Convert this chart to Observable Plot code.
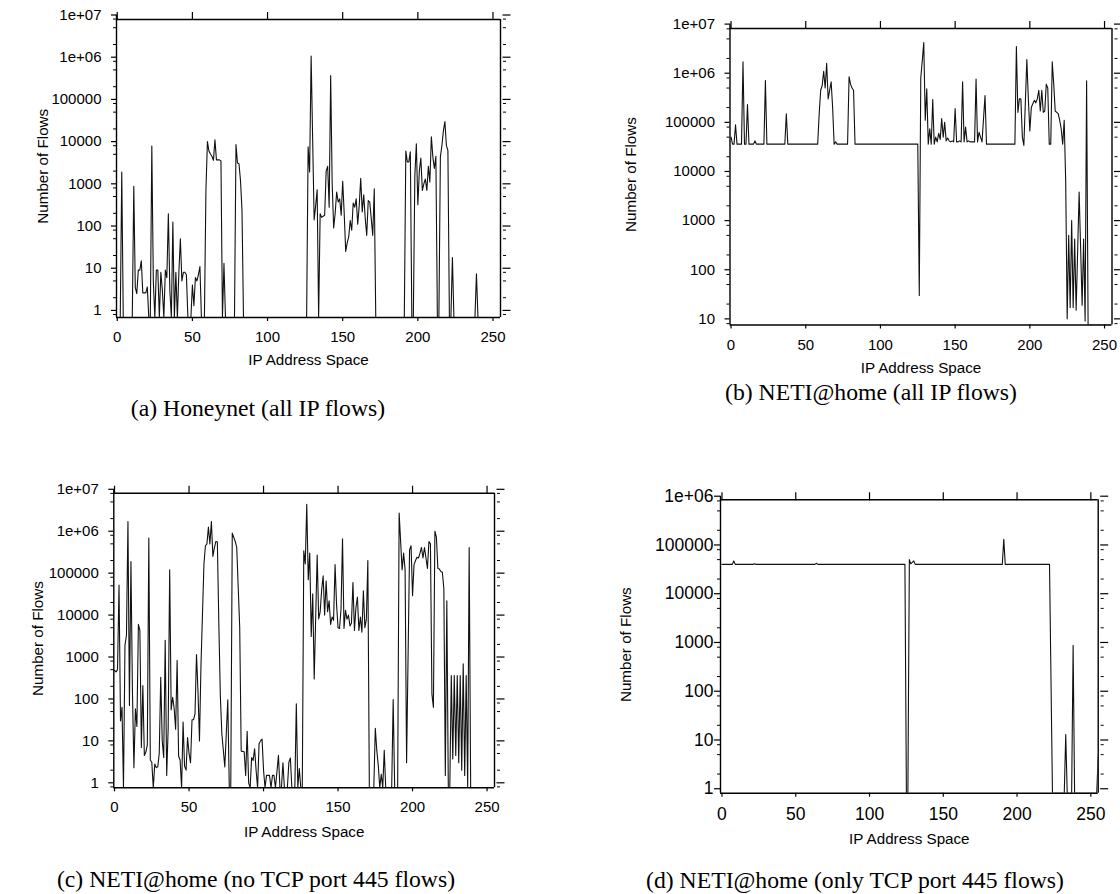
<!DOCTYPE html>
<html><head><meta charset="utf-8">
<script src="https://cdn.jsdelivr.net/npm/d3@7"></script>
<script src="https://cdn.jsdelivr.net/npm/@observablehq/plot@0.6"></script>
<style>
html,body{margin:0;padding:0;background:#fff}
body{width:1120px;height:894px;position:relative;overflow:hidden}
.panel{position:absolute}
.cap{position:absolute;font-family:"Liberation Serif","Times New Roman",serif;font-size:23.7px;white-space:nowrap;transform:translate(-50%,-50%);color:#000}
</style></head><body>
<div id="pa" class="panel" style="left:0;top:0"></div>
<div id="pb" class="panel" style="left:560px;top:0"></div>
<div id="pc" class="panel" style="left:0;top:440px"></div>
<div id="pd" class="panel" style="left:560px;top:440px"></div>
<div class="cap" style="left:258px;top:408px">(a) Honeynet (all IP flows)</div>
<div class="cap" style="left:871px;top:392px">(b) NETI@home (all IP flows)</div>
<div class="cap" style="left:256px;top:879px">(c) NETI@home (no TCP port 445 flows)</div>
<div class="cap" style="left:855px;top:880px">(d) NETI@home (only TCP port 445 flows)</div>
<script>
const xTickValues = [0, 50, 100, 150, 200, 250];
const yTickValues = [1, 10, 100, 1000, 10000, 100000, 1e6, 1e7];
const yTickLabels = ["1", "10", "100", "1000", "10000", "100000", "1e+06", "1e+07"];
const minorMantissas = [2, 5, 8];
const xLabel = "IP Address Space";
const yLabel = "Number of Flows";

// [IP /8 block, number of flows]; 0 = no flows (drawn on the bottom border)
const honeynetAll = [[0,0],[2,0],[3,1900],[4,0],[10,0],[11,870],[12,3.5],[13,2.5],[14,9],[15,9],[16,15],[17,2.6],[19,2.6],[20,3.6],[21,0],[22,0],[23,7900],[24,5],[25,0],[26,9],[27,9],[28,0],[29,8],[30,3],[31,0],[32,9],[33,6],[34,195],[35,3],[36,0],[37,124],[38,0],[39,8],[40,0],[41,8],[42,50],[43,5],[44,8],[45,8],[46,7],[47,0],[49,0],[50,4],[51,1.3],[52,6],[53,5],[54,7],[55,11],[56,0],[58,0],[59,700],[60,10000],[61,6000],[62,5100],[63,4500],[64,3600],[65,11000],[66,3700],[68,3700],[69,3500],[70,0],[71,13],[72,0],[78,0],[79,8500],[80,3100],[81,3000],[82,1200],[83,235],[84,0],[126,0],[127,7500],[128,1900],[129,1070000],[130,12000],[131,140],[132,300],[133,720],[134,0],[135,195],[136,160],[137,170],[138,180],[139,2000],[140,2600],[141,280],[142,370000],[143,1000],[144,90],[145,200],[146,640],[147,370],[148,440],[149,180],[150,1150],[151,200],[152,25],[153,40],[154,55],[155,135],[156,80],[157,350],[158,280],[159,440],[160,110],[161,300],[162,1350],[163,215],[164,550],[165,150],[166,60],[167,400],[168,370],[169,150],[170,60],[171,760],[172,0],[191,0],[192,6000],[193,3300],[194,3300],[195,5700],[196,0],[197,0],[198,1500],[199,8900],[200,320],[201,2000],[202,4100],[203,700],[204,1000],[205,1300],[206,700],[207,2600],[208,1100],[209,13000],[210,4300],[211,2300],[212,4500],[213,0],[214,0],[215,4300],[216,8000],[217,18000],[218,30000],[219,8000],[220,6200],[221,0],[222,0],[223,18],[224,0],[238,0],[239,7.4],[240,0],[255,0]];

const netiAll = [[0,50000],[1,36000],[2,36000],[3,89000],[4,36000],[7,36000],[8,1700000],[9,36000],[10,36000],[11,230000],[12,36000],[15,36000],[16,42000],[17,36000],[22,36000],[23,710000],[24,36000],[36,36000],[37,150000],[38,36000],[58,36000],[59,150000],[60,450000],[61,560000],[62,1100000],[63,500000],[64,1600000],[65,300000],[66,450000],[67,670000],[68,200000],[69,36000],[70,40000],[71,36000],[78,36000],[79,850000],[80,600000],[81,500000],[82,450000],[83,36000],[125,36000],[126,30],[127,800000],[128,1800000],[129,4200000],[130,110000],[131,480000],[132,36000],[133,74000],[134,36000],[135,290000],[136,36000],[137,50000],[138,40000],[139,60000],[140,45000],[141,120000],[142,50000],[143,100000],[144,42000],[145,48000],[146,42000],[147,40000],[148,42000],[149,40000],[150,190000],[151,40000],[152,40000],[153,42000],[154,40000],[155,670000],[156,40000],[157,80000],[158,40000],[159,42000],[160,40000],[163,40000],[164,760000],[165,40000],[166,63000],[167,50000],[168,40000],[170,350000],[171,36000],[190,36000],[191,3500000],[192,160000],[193,300000],[194,300000],[195,50000],[196,34000],[198,1900000],[199,300000],[200,67000],[201,200000],[202,240000],[203,280000],[204,250000],[205,300000],[206,450000],[207,170000],[208,450000],[209,160000],[210,170000],[211,600000],[212,500000],[213,36000],[214,36000],[215,1700000],[216,600000],[217,170000],[218,160000],[219,150000],[220,110000],[221,74000],[222,36000],[223,110000],[224,6500],[225,10],[226,500],[227,17],[228,1000],[229,17],[230,420],[231,15],[233,3800],[235,19],[236,420],[237,9],[238,700000],[239,0],[255,0]];

const netiNo445 = [[0,480],[1,440],[2,500],[3,52000],[4,30],[5,63],[6,0],[7,1900],[8,3300],[9,1700000],[10,70],[11,190000],[12,160],[13,2.3],[14,58],[15,22],[16,6000],[17,4300],[18,7],[19,210],[20,4.5],[21,5.4],[22,8],[23,690000],[24,3.5],[25,3.1],[26,0],[27,2.8],[28,2.3],[29,2.4],[30,5],[31,330],[32,10],[33,4],[34,2500],[35,1.5],[36,20],[37,120000],[38,55],[39,110],[40,60],[41,19],[42,830],[43,4.3],[44,3.5],[45,0],[46,28],[47,2.5],[48,2],[49,12],[50,5],[51,3],[52,32],[53,32],[54,44],[55,1150],[56,150],[57,10],[58,630],[60,165000],[61,450000],[62,500000],[63,1250000],[64,500000],[65,1700000],[66,250000],[67,400000],[68,570000],[69,550000],[70,6000],[71,120],[72,15],[74,2.4],[76,95],[77,0],[78,0],[79,900000],[81,570000],[82,410000],[84,5100],[85,5.7],[87,5.5],[88,1.5],[89,17],[90,1],[91,0],[92,4],[93,3.4],[94,6.5],[95,2],[96,0],[97,8.5],[98,10],[99,11],[100,2],[101,0],[102,1.5],[104,1.5],[105,0],[106,1.5],[107,1.5],[108,0],[110,4.5],[111,0],[112,0],[113,3],[114,0],[116,0],[117,3.1],[118,3.9],[119,0],[121,0],[122,77],[123,0],[124,2.2],[125,0],[126,0],[127,340000],[128,165000],[129,4400000],[130,70000],[131,300000],[132,3100],[133,32000],[134,300],[135,9000],[136,270000],[137,8100],[138,12000],[139,40000],[140,87000],[141,10000],[142,65000],[143,12000],[144,22000],[145,6000],[146,9000],[147,7500],[148,160000],[149,18000],[150,5000],[151,4800],[152,14000],[153,660000],[154,4800],[155,13000],[156,8000],[157,10000],[158,5500],[159,6500],[160,60000],[161,4300],[162,15000],[163,27000],[164,4300],[165,9000],[166,3900],[167,38000],[168,5000],[169,8000],[170,200000],[171,0],[174,0],[175,20],[176,6],[177,2.6],[178,0],[179,1.6],[180,0],[181,6],[182,0],[186,0],[187,97],[188,0],[190,0],[191,2700000],[193,120000],[194,300000],[195,120000],[196,3],[198,360000],[199,450000],[200,29000],[201,160000],[202,200000],[203,240000],[204,230000],[205,300000],[206,410000],[207,230000],[208,410000],[209,230000],[210,130000],[211,570000],[212,500000],[213,130],[214,63],[215,1000000],[216,720000],[217,130000],[218,125000],[219,110000],[220,105000],[221,43000],[222,1.5],[223,22000],[224,0],[225,0],[226,360],[227,3.7],[228,360],[229,4.5],[230,360],[231,3],[232,360],[233,2],[234,690],[235,1.5],[236,360],[237,0],[238,410000],[239,0],[255,0]];

const netiOnly445 = [[0,40000],[7,40000],[8,47000],[9,40000],[21,40000],[22,41000],[23,40000],[63,40000],[64,42000],[65,40000],[124,40000],[125,0],[126,0],[127,50000],[128,41000],[130,47000],[131,40000],[190,40000],[191,130000],[192,40000],[222,40000],[224,0],[232,0],[233,13],[234,0],[237,0],[238,870],[239,0],[254,0],[255,4.8]];

const panels = [
  {id: "pa", data: honeynetAll, width: 560, height: 380, mL: 116, mR: 60, mT: 14.5, mB: 63, xMin: -0.5, yMin: 0.68, yMax: 1e7, frameDy: 4.5, font: 15, labelFont: 15.2, yTick: 5, yPad: 10, yLabelDx: -73, xLabelDy: 43},
  {id: "pb", data: netiAll, width: 560, height: 380, mL: 169.5, mR: 8.5, mT: 23.6, mB: 55.5, xMin: -0.7, yMin: 7.5, yMax: 1e7, frameDy: 4.4, font: 15, labelFont: 15.2, yTick: 5, yPad: 10, yLabelDx: -98.5, xLabelDy: 43.5},
  {id: "pc", data: netiNo445, width: 560, height: 454, mL: 113.3, mR: 66, mT: 48.8, mB: 106.7, xMin: -0.5, yMin: 0.76, yMax: 1e7, frameDy: 3.9, font: 15, labelFont: 15.2, yTick: 5, yPad: 10, yLabelDx: -75.5, xLabelDy: 44.7},
  {id: "pd", data: netiOnly445, width: 560, height: 454, mL: 160, mR: 22.3, mT: 55.7, mB: 101.3, xMin: -1, yMin: 0.81, yMax: 1e6, frameDy: 3.6, font: 17.5, labelFont: 15.2, yTick: 6, yPad: 1, yLabelDx: -94, xLabelDy: 46.3}
];

for (const p of panels) {
  const plotH = p.height - p.mT - p.mB;
  const decadePx = plotH / Math.log10(p.yMax / p.yMin);
  const frameTop = Math.pow(10, Math.log10(p.yMax) - p.frameDy / decadePx);
  const majors = yTickValues.filter(v => v >= p.yMin && v <= p.yMax);
  const minors = [];
  for (let e = -1; e < 8; e++) for (const m of minorMantissas) {
    const v = m * Math.pow(10, e);
    if (v > p.yMin && v < p.yMax) minors.push(v);
  }
  const fmt = v => yTickLabels[yTickValues.indexOf(v)];
  const blank = () => "";
  const chart = Plot.plot({
    width: p.width, height: p.height,
    marginLeft: p.mL, marginRight: p.mR, marginTop: p.mT, marginBottom: p.mB,
    style: {fontFamily: "'Liberation Sans', Arial, Helvetica, sans-serif", background: "transparent", color: "#000"},
    x: {type: "linear", domain: [p.xMin, 255]},
    y: {type: "log", domain: [p.yMin, p.yMax]},
    marks: [
      Plot.line(p.data, {x: d => d[0], y: d => Math.max(d[1], p.yMin), stroke: "#111", strokeWidth: 1.1, clip: true}),
      // frame
      Plot.ruleY([p.yMin], {x1: p.xMin, x2: 255, stroke: "#000", strokeWidth: 1.4}),
      Plot.ruleY([frameTop], {x1: p.xMin, x2: 255, stroke: "#000", strokeWidth: 1.4}),
      Plot.ruleX([p.xMin], {y1: p.yMin, y2: p.yMax, stroke: "#000", strokeWidth: 1.4}),
      Plot.ruleX([255], {y1: p.yMin, y2: frameTop, stroke: "#000", strokeWidth: 1.4}),
      // left axis
      Plot.axisY(majors, {anchor: "left", tickSize: p.yTick, tickPadding: p.yPad, tickFormat: fmt, fontSize: p.font, strokeWidth: 1.2}),
      Plot.axisY(minors, {anchor: "left", tickSize: 3, tickFormat: blank, strokeWidth: 1}),
      // right (mirror) axis
      Plot.axisY(majors, {anchor: "right", tickSize: 8, tickFormat: blank, dx: 1.5, strokeWidth: 1.2}),
      Plot.axisY(minors, {anchor: "right", tickSize: 3, tickFormat: blank, dx: 2, strokeWidth: 1}),
      // top (mirror) ticks
      Plot.axisX(xTickValues, {anchor: "top", tickSize: 8, tickFormat: blank, dy: p.frameDy, strokeWidth: 1.2}),
      // bottom axis
      Plot.axisX(xTickValues, {anchor: "bottom", tickSize: 4, tickPadding: 10, fontSize: p.font, strokeWidth: 1.2}),
      Plot.text([xLabel], {frameAnchor: "bottom", textAnchor: "middle", lineAnchor: "middle", dy: p.xLabelDy, fontSize: p.labelFont, fill: "#000"}),
      Plot.text([yLabel], {frameAnchor: "left", textAnchor: "middle", lineAnchor: "middle", dx: p.yLabelDx, rotate: -90, fontSize: p.labelFont, fill: "#000"})
    ]
  });
  document.getElementById(p.id).appendChild(chart);
}
</script>
</body></html>
